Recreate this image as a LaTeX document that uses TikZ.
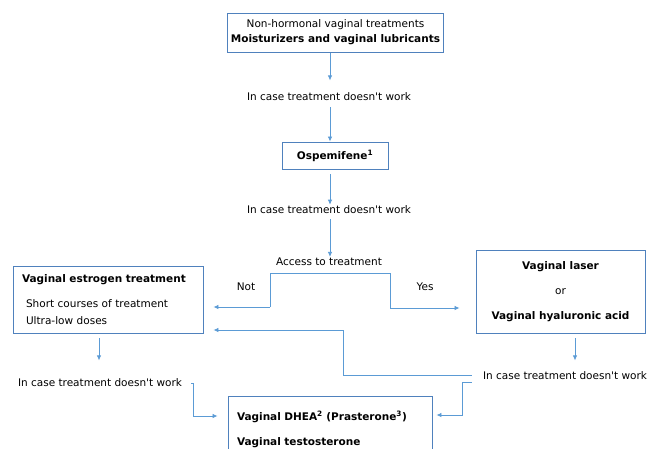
\documentclass[tikz,border=0pt]{standalone}
\usepackage{fontspec}
\setmainfont{DejaVu Sans}[Ligatures=TeXOff]
\usepackage{tikz}
\usetikzlibrary{arrows.meta, positioning, calc}
\definecolor{boxblue}{RGB}{79,129,189}
\definecolor{lineblue}{RGB}{91,155,213}
\tikzset{
  box/.style ={rectangle, draw=boxblue, line width=0.9pt, align=center, inner sep=3pt, font=\fontsize{10.5}{15}\selectfont},
  note/.style={align=center, inner sep=1pt, font=\fontsize{10.5}{12}\selectfont},
  fl/.style  ={draw=lineblue, line width=0.8pt, -{Latex[length=5pt,width=4.5pt]}},
  ln/.style  ={draw=lineblue, line width=0.8pt},
}

\begin{document}
\begin{tikzpicture}[x=1pt, y=-1pt]
  \useasboundingbox (0,0) rectangle (654,448);
  \node[box, minimum width=205pt, minimum height=39pt] (top) at (335.5,32.5) {Non-hormonal vaginal treatments\\\textbf{Moisturizers and vaginal lubricants}};
  \node[note] (try1) at (329,97) {In case treatment doesn't work};
  \node[box, minimum width=106pt, minimum height=27pt] (ospe) at (335,155.5) {\textbf{Ospemifene\textsuperscript{1}}};
  \node[note] (try2) at (329,210) {In case treatment doesn't work};
  \node[note] (access) at (329,262) {Access to treatment};
  \node[note] at (246,287) (no) {Not};
  \node[note] at (425,287) (yes) {Yes};
  \node[box, minimum width=190pt, minimum height=67pt, align=left, text width=182pt, font=\fontsize{10.5}{17}\selectfont] (estro) at (108,299.5) {\hspace*{5pt}\textbf{Vaginal estrogen treatment}\\[8pt]
    \hspace*{9pt}Short courses of treatment\\
    \hspace*{9pt}Ultra-low doses};
  \node[box, minimum width=169pt, minimum height=83pt, font=\fontsize{10.5}{25}\selectfont] (laser) at (560.5,291.5) {\textbf{Vaginal laser}\\or\\\textbf{Vaginal hyaluronic acid}};
  \node[note] (try3) at (100,383) {In case treatment doesn't work};
  \node[note] (try4) at (565,376) {In case treatment doesn't work};
  \node[box, minimum width=204pt, minimum height=66pt, align=left, text width=192pt, font=\fontsize{10.5}{25}\selectfont] (dhea) at (330,429) {\hspace*{3pt}\textbf{Vaginal DHEA\textsuperscript{2} (Prasterone\textsuperscript{3})}\\\hspace*{3pt}\textbf{Vaginal testosterone}};
  % bends
  \coordinate (split) at (330,273);
  \coordinate (nobend) at (270,307);
  \coordinate (yesbend) at (390,308);
  \coordinate (backbend) at (343,377);
  \coordinate (leftbend) at (193,416);
  \coordinate (rightbend) at (462,415);
  \draw[fl] (top.south -| 330,0) ++(0,1) -- ++(0,27);
  \draw[fl] (try1.south -| 330,0) ++(0,5) -- (ospe.north -| 330,137);
  \draw[fl] (ospe.south -| 330,0) ++(0,5) -- (try2.north -| 330,200);
  \draw[fl] (try2.south -| 330,0) ++(0,4) -- (access.north -| 330,247);
  \draw[ln] (split) -| (nobend);
  \draw[fl] (nobend) -- ([xshift=10pt]nobend -| estro.east);
  \draw[ln] (split) -| (yesbend);
  \draw[fl] (yesbend) -- ([xshift=-16pt]yesbend -| laser.west);
  \draw[fl] (estro.south -| 99,0) ++(0,5) -- ++(0,22);
  \draw[fl] (laser.south -| 575,0) ++(0,5) -- ++(0,22);
  \draw[fl] ([xshift=-10pt,yshift=1pt]try4.west) -| (backbend |- 0,330) -- ([xshift=10pt]estro.east |- 0,330);
  \draw[fl] ([xshift=8pt]try3.east) -| (leftbend) -- ([xshift=-10pt]leftbend -| dhea.west);
  \draw[fl] ([xshift=-10pt,yshift=-6pt]try4.west) -| (rightbend) -- ([xshift=4pt]rightbend -| dhea.east);
\end{tikzpicture}
\end{document}
